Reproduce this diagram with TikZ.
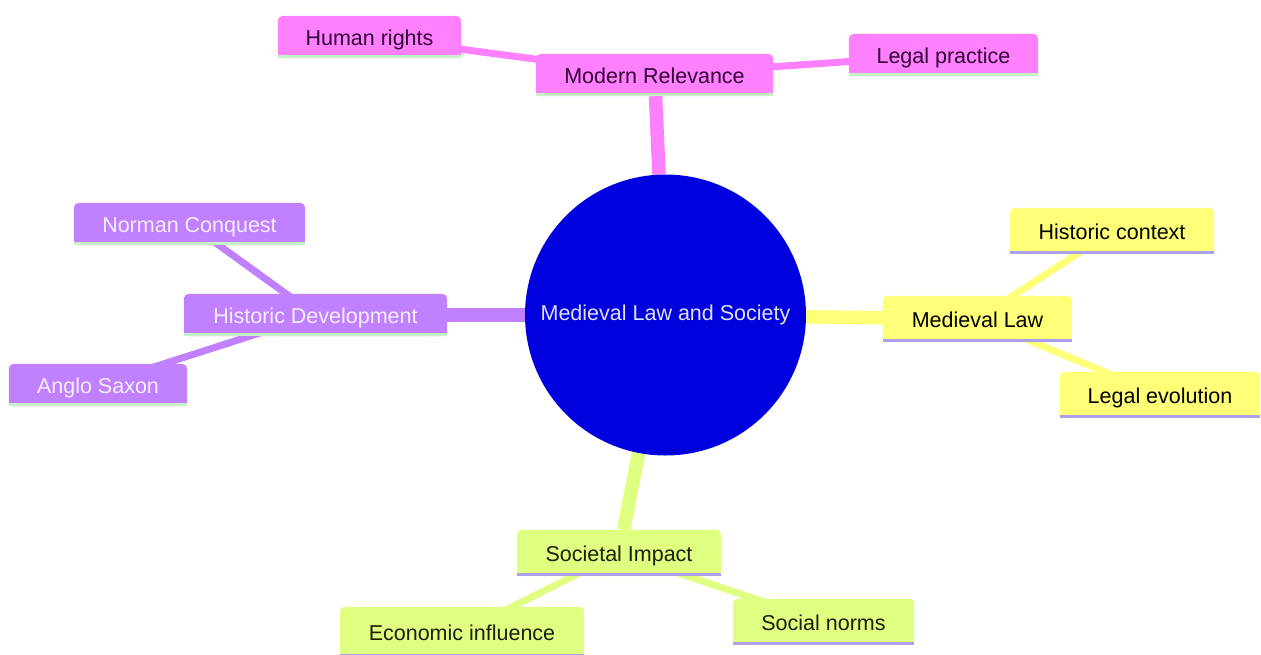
\documentclass[tikz,border=0pt]{standalone}
\usepackage{fontspec}
\setmainfont{Liberation Sans}
\usetikzlibrary{backgrounds}
\definecolor{pinkc}{RGB}{255,128,255}
\definecolor{purplec}{RGB}{192,128,255}
\definecolor{yellowc}{RGB}{255,255,120}
\definecolor{greenc}{RGB}{223,255,128}
\definecolor{bluec}{RGB}{0,0,222}
\definecolor{linegreen}{RGB}{196,242,196}
\definecolor{linepurple}{RGB}{170,160,235}
\definecolor{pinktext}{RGB}{51,0,51}
\definecolor{purpletext}{RGB}{245,238,255}
\definecolor{greentext}{RGB}{30,30,10}
\definecolor{roottext}{RGB}{225,225,250}
\newcommand{\mmfill}[3]{%
  \fill[#2, rounded corners=5pt] (#1.south west) rectangle (#1.north east);
  \fill[#2] (#1.south west) rectangle (#1.east);
  \draw[#3, line width=3pt] ([yshift=1.5pt]#1.south west) -- ([yshift=1.5pt]#1.south east);
}
\begin{document}
\begin{tikzpicture}[x=1pt,y=-1pt,
  mmtext/.style={font=\fontsize{21.5}{25}\selectfont, inner sep=0pt, anchor=center,
                 text height=21.5pt, text depth=5pt},
  pinkbox/.style={mmtext, text=pinktext},
  purplebox/.style={mmtext, text=purpletext},
  yellowbox/.style={mmtext, text=black},
  greenbox/.style={mmtext, text=greentext},
  mainedge/.style={line width=13.5pt},
  leafedge/.style={line width=7pt}]
\useasboundingbox (0,0) rectangle (1261,654);

% root
\node[circle, fill=bluec, minimum size=281pt, inner sep=0pt, text=roottext,
      font=\fontsize{21.5}{25}\selectfont] (root) at (665.5,315) {Medieval Law and Society};

% Modern Relevance
\node[pinkbox, minimum width=237pt, minimum height=42pt] (mr) at (654.5,75) {Modern Relevance};
\node[pinkbox, minimum width=183pt, minimum height=42pt] (hr) at (369.5,37) {Human rights};
\node[pinkbox, minimum width=189pt, minimum height=42pt] (lp) at (943.5,55) {Legal practice};

% Historic Development
\node[purplebox, minimum width=263pt, minimum height=42pt] (hd) at (315.5,315) {Historic Development};
\node[purplebox, minimum width=231pt, minimum height=42pt] (nc) at (189.5,224) {Norman Conquest};
\node[purplebox, minimum width=178pt, minimum height=42pt] (as) at (98,385) {Anglo Saxon};

% Medieval Law
\node[yellowbox, minimum width=189pt, minimum height=46pt] (ml) at (977.5,319) {Medieval Law};
\node[yellowbox, minimum width=204pt, minimum height=46pt] (hc) at (1112,231) {Historic context};
\node[yellowbox, minimum width=200pt, minimum height=46pt] (le) at (1160,395) {Legal evolution};

% Societal Impact
\node[greenbox, minimum width=204pt, minimum height=46pt] (si) at (619,553) {Societal Impact};
\node[greenbox, minimum width=244pt, minimum height=50pt] (ei) at (462,632) {Economic influence};
\node[greenbox, minimum width=181pt, minimum height=46pt] (sn) at (823.5,622) {Social norms};

\begin{pgfonlayer}{background}
  % edges
  \draw[pinkc, mainedge] (root) -- (mr);
  \draw[purplec, mainedge] (root) -- (hd);
  \draw[yellowc, mainedge] (root.center) -- (ml.center);
  \draw[greenc, mainedge] (root) -- (si);
  \draw[pinkc, leafedge] (mr.center) -- (hr.center);
  \draw[pinkc, leafedge] (mr.center) -- (lp.center);
  \draw[purplec, leafedge] (hd.center) -- (nc.center);
  \draw[purplec, leafedge] (hd.center) -- (as.center);
  \draw[yellowc, leafedge] (ml.center) -- (hc.center);
  \draw[yellowc, leafedge] (ml.center) -- (le.center);
  \draw[greenc, leafedge] (si.center) -- (ei.center);
  \draw[greenc, leafedge] (si.center) -- (sn.center);
  % boxes
  \mmfill{mr}{pinkc}{linegreen}
  \mmfill{hr}{pinkc}{linegreen}
  \mmfill{lp}{pinkc}{linegreen}
  \mmfill{hd}{purplec}{linegreen}
  \mmfill{nc}{purplec}{linegreen}
  \mmfill{as}{purplec}{linegreen}
  \mmfill{ml}{yellowc}{linepurple}
  \mmfill{hc}{yellowc}{linepurple}
  \mmfill{le}{yellowc}{linepurple}
  \mmfill{si}{greenc}{linepurple}
  \mmfill{ei}{greenc}{linepurple}
  \mmfill{sn}{greenc}{linepurple}
\end{pgfonlayer}
\end{tikzpicture}
\end{document}
